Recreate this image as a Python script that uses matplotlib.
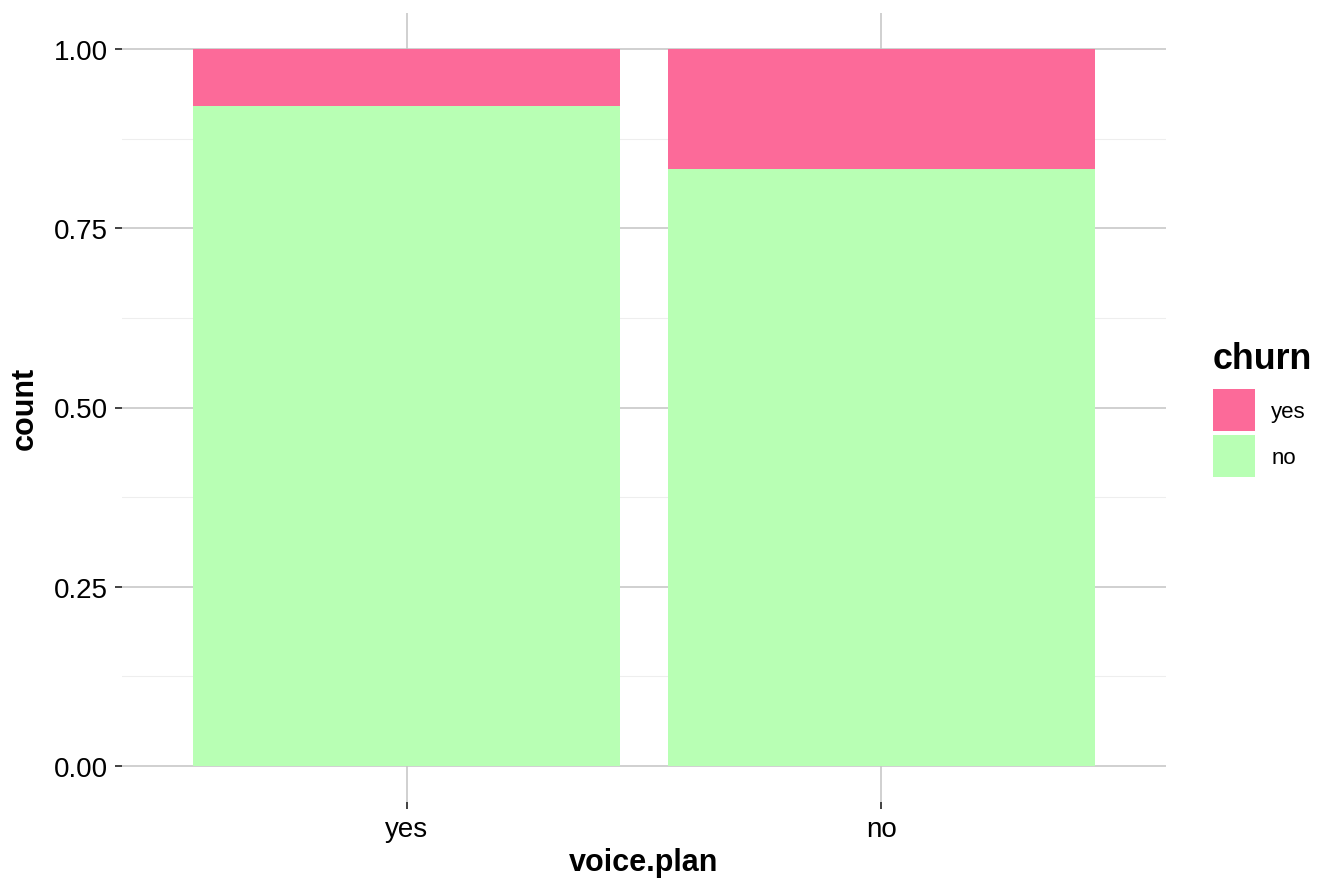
import matplotlib
matplotlib.use("Agg")
import matplotlib.pyplot as plt
from matplotlib.patches import Patch
from matplotlib.ticker import MultipleLocator
import numpy as np

# data
categories = ["yes", "no"]          # voice.plan
churn_no = [0.921, 0.833]           # proportion not churned
churn_yes = [0.079, 0.167]          # proportion churned
legend_labels = ["yes", "no"]
y_ticks = [0.0, 0.25, 0.5, 0.75, 1.0]
y_tick_labels = ["0.00", "0.25", "0.50", "0.75", "1.00"]

col_yes = "#FC6A99"
col_no = "#B8FFB4"

plt.rcParams["font.family"] = ["Liberation Sans", "DejaVu Sans"]

fig = plt.figure(figsize=(13.44, 8.95), dpi=100)
W, H = 1344, 895
ax = fig.add_axes([122 / W, 1 - 803 / H, (1166 - 122) / W, (803 - 14) / H])

x = np.arange(len(categories))
ax.bar(x, churn_no, width=0.9, color=col_no, zorder=2, linewidth=0)
ax.bar(x, churn_yes, bottom=churn_no, width=0.9, color=col_yes, zorder=2, linewidth=0)

ax.set_xlim(-0.6, len(categories) - 1 + 0.6)
ax.set_ylim(-0.05, 1.05)

ax.set_xticks(x)
ax.set_xticklabels(categories)
ax.set_yticks(y_ticks)
ax.set_yticklabels(y_tick_labels)
ax.yaxis.set_minor_locator(MultipleLocator(0.125))

for s in ax.spines.values():
    s.set_visible(False)

ax.grid(True, which="major", color="#C4C4C4", linewidth=1.1, zorder=0)
ax.grid(True, which="minor", axis="y", color="#EEEEEE", linewidth=0.8, zorder=0)
ax.set_axisbelow(True)

ax.tick_params(axis="both", which="major", length=5, width=1.3, color="#333333",
               labelsize=20, labelcolor="black", pad=5)
ax.tick_params(axis="both", which="minor", length=0)

ax.set_xlabel("voice.plan", fontsize=22, fontweight="bold", labelpad=4)
ax.set_ylabel("count", fontsize=22, fontweight="bold", labelpad=10)

fs = 16.0
key_pt = 42 * 72 / 100
hh = (key_pt - 0.245 * fs) / (0.65 * fs)
handles = [Patch(facecolor=col_yes, edgecolor="none"),
           Patch(facecolor=col_no, edgecolor="none")]
leg = fig.legend(handles, legend_labels, title="churn",
                 loc="upper left", bbox_to_anchor=(1197 / W, 1 - 326 / H),
                 frameon=False, fontsize=fs, title_fontsize=25.8,
                 handlelength=key_pt / fs, handleheight=hh,
                 labelspacing=0.18, handletextpad=0.75, borderpad=0.2)
leg.get_title().set_fontweight("bold")
leg._legend_box.align = "left"
leg._legend_box.sep = 10

fig.savefig("out.png", dpi=100)
